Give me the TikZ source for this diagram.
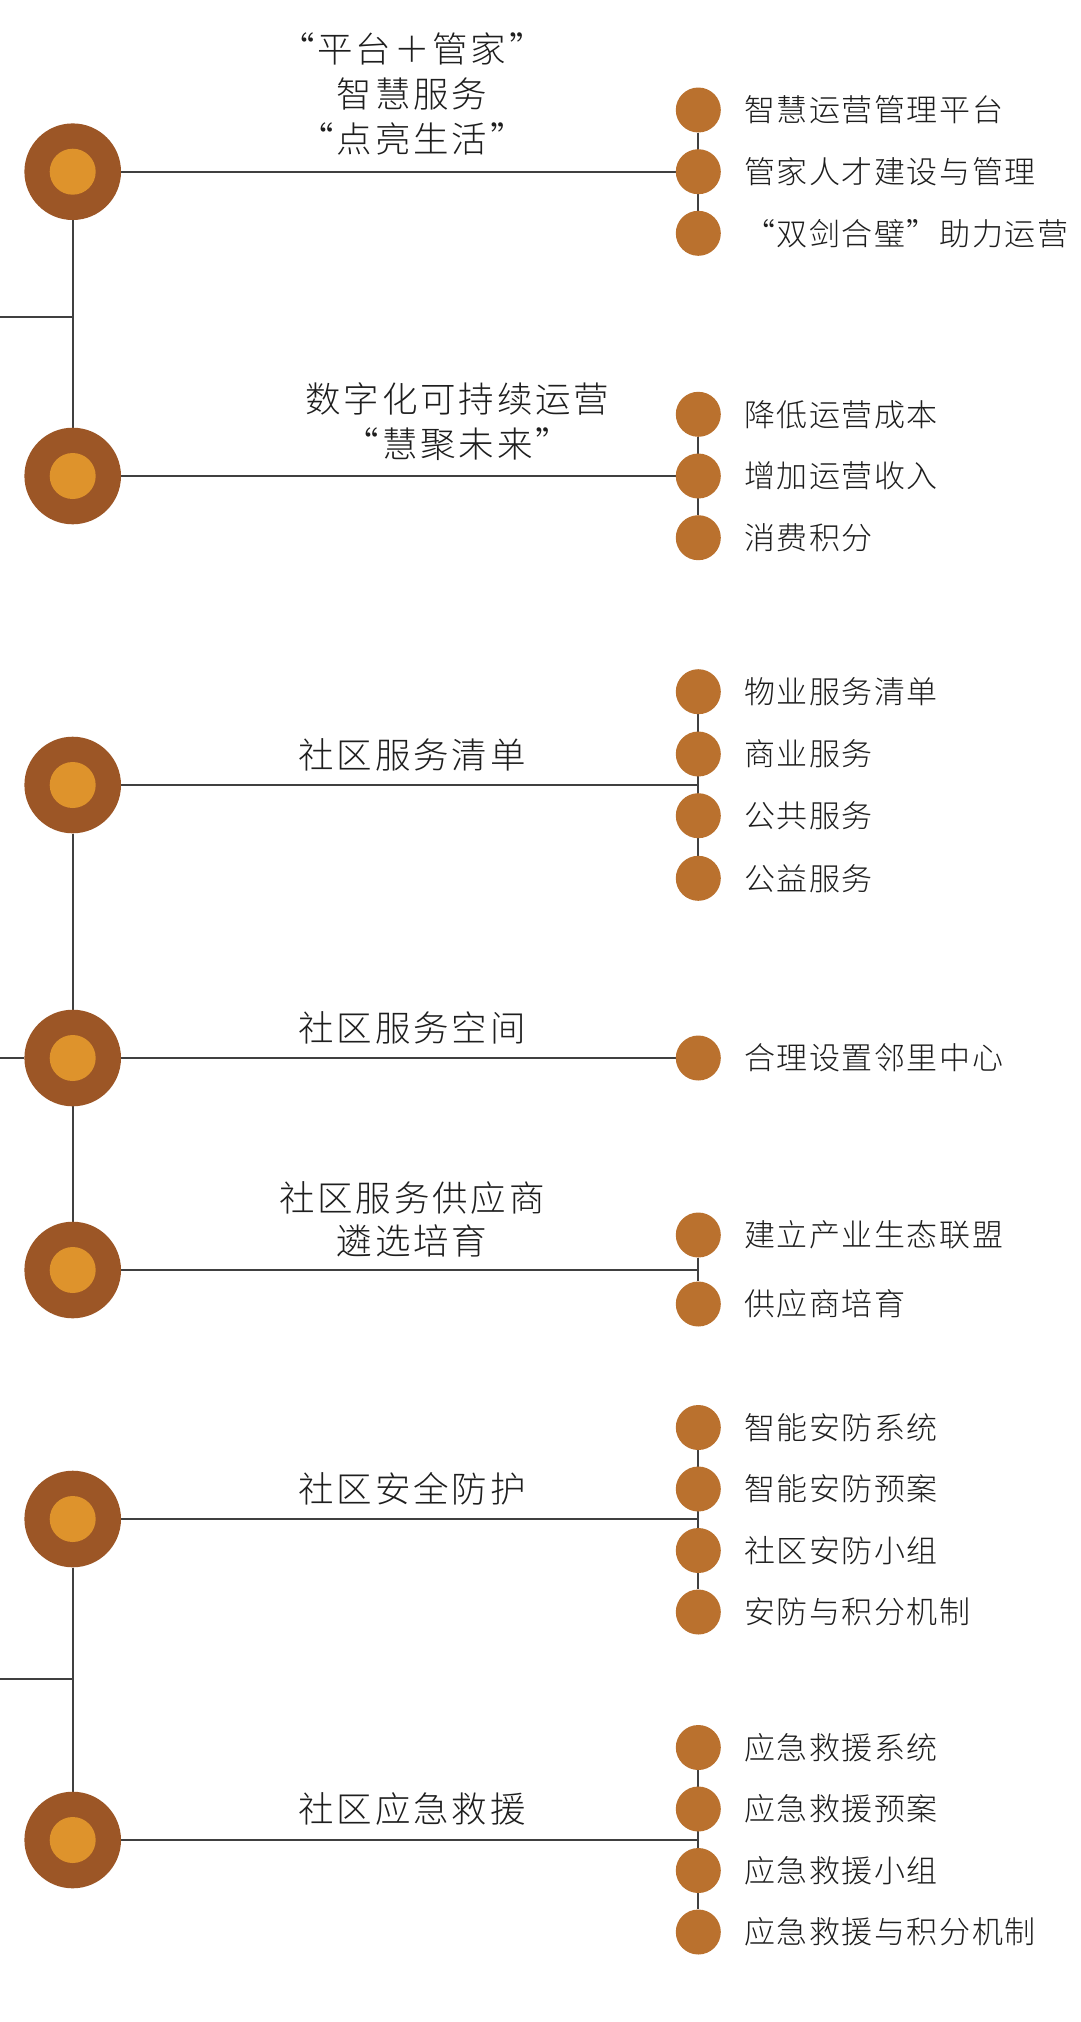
\documentclass[tikz,border=0pt]{standalone}
\usepackage{fontspec}
\usetikzlibrary{backgrounds}
\newfontfamily\titlefont{Noto Sans CJK SC}[UprightFont=* Light, LetterSpace=8]
\newfontfamily\itemfont{Noto Sans CJK SC}[UprightFont=* Light, LetterSpace=5]
\definecolor{outerbrown}{HTML}{9C5626}
\definecolor{innerorange}{HTML}{DE932C}
\definecolor{smallbrown}{HTML}{BA712E}
\definecolor{linegray}{HTML}{404040}
\definecolor{textgray}{HTML}{1E1E1E}
\tikzset{
  bigc/.style={circle, fill=outerbrown, minimum size=96.6pt, inner sep=0pt,
    path picture={\fill[innerorange] (path picture bounding box.center) circle (23pt);}},
  smallc/.style={circle, fill=smallbrown, minimum size=45pt, inner sep=0pt},
  itemtext/.style={anchor=base west, inner sep=0pt, text=textgray,
    font=\itemfont\fontsize{31}{36}\selectfont},
  titletext/.style={anchor=base, inner sep=0pt, text=textgray,
    font=\titlefont\fontsize{35.5}{44}\selectfont},
  conn/.style={draw=linegray, line width=2pt}
}
\begin{document}
\begin{tikzpicture}[x=1pt,y=-1pt]
\useasboundingbox (0,0) rectangle (1080,2022);
% big circles
\node[bigc] (b1) at (72.7,171.7) {};
\node[bigc] (b2) at (72.7,476) {};
\node[bigc] (b3) at (72.7,785) {};
\node[bigc] (b4) at (72.7,1058) {};
\node[bigc] (b5) at (72.7,1270) {};
\node[bigc] (b6) at (72.7,1519) {};
\node[bigc] (b7) at (72.7,1840) {};
% junctions and free ends
\coordinate (j1) at (72.7,316.7);
\coordinate (l1) at (0,316.7);
\coordinate (l4) at (0,1058);
\coordinate (j6) at (72.7,1679);
\coordinate (l6) at (0,1679);
% small circles
\node[smallc] (s1a) at (698.3,110) {};
\node[smallc] (s1b) at (698.3,171.7) {};
\node[smallc] (s1c) at (698.3,233.3) {};
\node[smallc] (s2a) at (698.3,414.3) {};
\node[smallc] (s2b) at (698.3,476) {};
\node[smallc] (s2c) at (698.3,537.7) {};
\node[smallc] (s3a) at (698.3,691.7) {};
\node[smallc] (s3b) at (698.3,754) {};
\node[smallc] (s3c) at (698.3,815.7) {};
\node[smallc] (s3d) at (698.3,878.3) {};
\node[smallc] (s4a) at (698.3,1058) {};
\node[smallc] (s5a) at (698.3,1235) {};
\node[smallc] (s5b) at (698.3,1304) {};
\node[smallc] (s6a) at (698.3,1427.5) {};
\node[smallc] (s6b) at (698.3,1489) {};
\node[smallc] (s6c) at (698.3,1550.5) {};
\node[smallc] (s6d) at (698.3,1612) {};
\node[smallc] (s7a) at (698.3,1747.5) {};
\node[smallc] (s7b) at (698.3,1809) {};
\node[smallc] (s7c) at (698.3,1870.5) {};
\node[smallc] (s7d) at (698.3,1932) {};
% connectors behind
\begin{pgfonlayer}{background}
\fill[white] (0,0) rectangle (1080,2022);
\draw[conn] (b1) -- (b2);
\draw[conn] (l1) -- (j1);
\draw[conn] (b3) -- (b5);
\draw[conn] (l4) -- (b4);
\draw[conn] (b6) -- (b7);
\draw[conn] (l6) -- (j6);
\draw[conn] (b1) -- (s1b);
\draw[conn] (b2) -- (s2b);
\draw[conn] (b3) -- (b3 -| s3a);
\draw[conn] (b4) -- (s4a);
\draw[conn] (b5) -- (b5 -| s5a);
\draw[conn] (b6) -- (b6 -| s6a);
\draw[conn] (b7) -- (b7 -| s7a);
\draw[conn] (s1a) -- (s1c);
\draw[conn] (s2a) -- (s2c);
\draw[conn] (s3a) -- (s3d);
\draw[conn] (s5a) -- (s5b);
\draw[conn] (s6a) -- (s6d);
\draw[conn] (s7a) -- (s7d);
\end{pgfonlayer}
% titles
\node[titletext] (t1a) at (412,62.5) {“平台＋管家”};
\node[titletext] (t1b) at (412,107.5) {智慧服务};
\node[titletext] (t1c) at (412,152.5) {“点亮生活”};
\node[titletext] (t2a) at (457.5,412.5) {数字化可持续运营};
\node[titletext] (t2b) at (457.5,457.5) {“慧聚未来”};
\node[titletext] (t3) at (412,768.5) {社区服务清单};
\node[titletext] (t4) at (412,1041.5) {社区服务空间};
\node[titletext] (t5a) at (412,1211) {社区服务供应商};
\node[titletext] (t5b) at (412,1254.5) {遴选培育};
\node[titletext] (t6) at (412,1502.5) {社区安全防护};
\node[titletext] (t7) at (412,1822.5) {社区应急救援};
% item labels
\node[itemtext] (i1a) at (744,121.8) {智慧运营管理平台};
\node[itemtext] (i1b) at (744,183.5) {管家人才建设与管理};
\node[itemtext] (i1c) at (744,245.1) {“双剑合璧”助力运营};
\node[itemtext] (i2a) at (744,426.1) {降低运营成本};
\node[itemtext] (i2b) at (744,487.8) {增加运营收入};
\node[itemtext] (i2c) at (744,549.5) {消费积分};
\node[itemtext] (i3a) at (744,703.5) {物业服务清单};
\node[itemtext] (i3b) at (744,765.8) {商业服务};
\node[itemtext] (i3c) at (744,827.5) {公共服务};
\node[itemtext] (i3d) at (744,890.1) {公益服务};
\node[itemtext] (i4a) at (744,1069.8) {合理设置邻里中心};
\node[itemtext] (i5a) at (744,1246.8) {建立产业生态联盟};
\node[itemtext] (i5b) at (744,1315.8) {供应商培育};
\node[itemtext] (i6a) at (744,1439.3) {智能安防系统};
\node[itemtext] (i6b) at (744,1500.8) {智能安防预案};
\node[itemtext] (i6c) at (744,1562.3) {社区安防小组};
\node[itemtext] (i6d) at (744,1623.8) {安防与积分机制};
\node[itemtext] (i7a) at (744,1759.3) {应急救援系统};
\node[itemtext] (i7b) at (744,1820.8) {应急救援预案};
\node[itemtext] (i7c) at (744,1882.3) {应急救援小组};
\node[itemtext] (i7d) at (744,1943.8) {应急救援与积分机制};
\end{tikzpicture}
\end{document}
